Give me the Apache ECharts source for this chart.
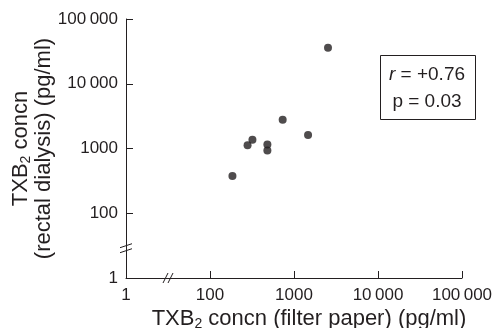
<!DOCTYPE html>
<html>
<head>
<meta charset="utf-8">
<script src="https://cdn.jsdelivr.net/npm/echarts@6/dist/echarts.min.js"></script>
<style>
  html, body { margin: 0; padding: 0; background: #fff; }
  #chart { width: 493px; height: 328px; }
</style>
</head>
<body>
<div id="chart"></div>
<script>
// TXB2 in filter paper vs rectal dialysis, one point per patient (pg/ml)
const filterPaper = [2540, 733, 1470, 320, 280, 482, 482, 185];
const rectalDialysis = [36000, 2790, 1620, 1370, 1120, 1150, 930, 377];

// axis ticks: the first one sits before the "//" break
const xTicks = [1, 100, 1000, 10000, 100000];
const yTicks = [1, 100, 1000, 10000, 100000];
const tickLabels = ['1', '100', '1000', '10\u2009000', '100\u2009000'];

const stats = { r: '+0.76', p: '0.03' };

const ink = '#231f20';
const font = 'Liberation Sans';

// log scale with the 1..100 stretch squeezed to a single decade
const toPos = v => (v <= 1 ? 1 : Math.log10(v));
const tickPos = ticks => ticks.map(toPos);
const labelFor = (ticks, val) => {
  const i = tickPos(ticks).findIndex(p => Math.abs(p - val) < 1e-6);
  return i < 0 ? '' : tickLabels[i];
};

const points = filterPaper.map((x, i) => [toPos(x), toPos(rectalDialysis[i])]);

const chart = echarts.init(document.getElementById('chart'), null, { renderer: 'canvas' });

const axisCommon = {
  type: 'value',
  min: 1,
  max: 5,
  interval: 1,
  splitLine: { show: false },
  axisLine: { show: true, onZero: false, lineStyle: { color: ink, width: 1 } },
  axisTick: { show: true, inside: true, length: 7, lineStyle: { color: ink } },
  axisLabel: { color: ink, fontFamily: font, fontSize: 17 },
  nameMoveOverlap: false
};

const subRich = {
  t: { fontFamily: font, fontSize: 22, color: ink, lineHeight: 22 },
  s: { fontFamily: font, fontSize: 14, color: ink, padding: [10, 0, 0, 0] }
};

chart.setOption({
  animation: false,
  grid: { left: 126, right: 31, top: 19, bottom: 50, outerBoundsMode: 'none' },
  xAxis: {
    ...axisCommon,
    axisLabel: { ...axisCommon.axisLabel, margin: 9, formatter: v => labelFor(xTicks, v) },
    name: '{t|TXB}{s|2}{t| concn (filter paper) (pg/ml)}',
    nameLocation: 'middle',
    nameGap: 29,
    nameTextStyle: { rich: subRich, padding: [0, 0, 0, 30] }
  },
  yAxis: {
    ...axisCommon,
    axisLabel: { ...axisCommon.axisLabel, margin: 8, formatter: v => labelFor(yTicks, v) },
    name: '{t|TXB}{s|2}{t| concn}\n{t|(rectal dialysis) (pg/ml)}',
    nameLocation: 'middle',
    nameRotate: 90,
    nameGap: 71,
    nameTextStyle: { rich: subRich, align: 'center' }
  },
  series: [{
    type: 'scatter',
    data: points,
    symbol: 'circle',
    symbolSize: 8,
    itemStyle: { color: ink }
  }]
});

// axis break marks and the correlation box
const xb = chart.convertToPixel({ gridIndex: 0 }, [1.5, 1]);
const yb = chart.convertToPixel({ gridIndex: 0 }, [1, 1.46]);
const lineStyle = { stroke: ink, lineWidth: 1 };
const marks = [];
[-2.5, 2.5].forEach(d => {
  marks.push({ type: 'line', shape: { x1: xb[0] + d - 2.5, y1: xb[1] + 5, x2: xb[0] + d + 2.5, y2: xb[1] - 5 }, style: lineStyle });
  marks.push({ type: 'line', shape: { x1: yb[0] - 6, y1: yb[1] + d + 2, x2: yb[0] + 6, y2: yb[1] + d - 2 }, style: lineStyle });
});

chart.setOption({
  graphic: [
    ...marks,
    { type: 'rect', shape: { x: 380.5, y: 55.5, width: 95, height: 64 }, style: { fill: '#fff', stroke: ink, lineWidth: 1 } },
    {
      type: 'text', x: 427, y: 75,
      style: {
        text: '{i|r} = ' + stats.r, align: 'center', verticalAlign: 'middle',
        font: '19px "' + font + '"', fill: ink,
        rich: { i: { fontStyle: 'italic', fontFamily: font, fontSize: 19, fill: ink } }
      }
    },
    {
      type: 'text', x: 427, y: 102,
      style: { text: 'p = ' + stats.p, align: 'center', verticalAlign: 'middle', font: '19px "' + font + '"', fill: ink }
    }
  ]
});
</script>
</body>
</html>
